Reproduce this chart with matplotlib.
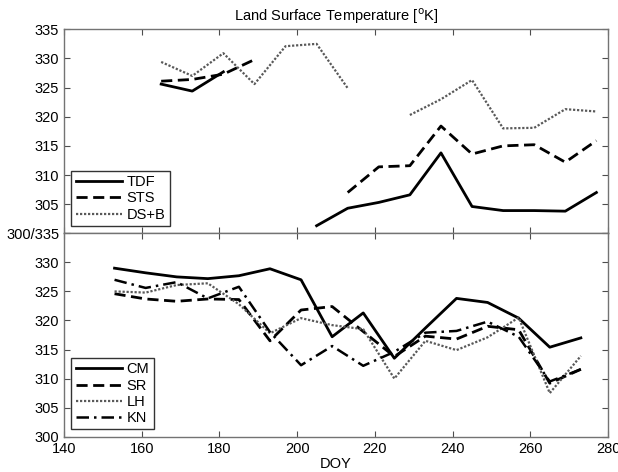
import numpy as np
import matplotlib
matplotlib.use("Agg")
import matplotlib.pyplot as plt

plt.rcParams["font.family"] = ["Liberation Sans", "DejaVu Sans"]
plt.rcParams["font.size"] = 10

nan = np.nan

# top panel: 8-day composites, DOY 165..277
doy_top = [165, 173, 181, 189, 197, 205, 213, 221, 229, 237, 245, 253, 261, 269, 277]
tdf  = [325.6, 324.4, 327.7, nan, nan, 301.3, 304.3, 305.3, 306.6, 313.8, 304.6, 303.9, 303.9, 303.8, 307.0]
sts  = [326.1, 326.4, 327.3, 329.8, nan, nan, 307.0, 311.4, 311.6, 318.4, 313.6, 315.0, 315.2, 312.2, 315.9]
dsb  = [329.4, 327.0, 330.9, 325.6, 332.1, 332.5, 324.9, nan, 320.3, 323.0, 326.3, 318.0, 318.1, 321.3, 320.9]

# bottom panel: DOY 153..273
doy_bot = [153, 161, 169, 177, 185, 193, 201, 209, 217, 225, 233, 241, 249, 257, 265, 273]
cm = [329.0, 328.2, 327.5, 327.2, 327.7, 328.9, 327.0, 317.2, 321.3, 313.5, 318.7, 323.8, 323.1, 320.4, 315.4, 317.0]
sr = [324.6, 323.7, 323.3, 323.7, 323.6, 316.5, 321.8, 322.4, 318.1, 313.8, 317.3, 316.8, 319.0, 318.4, 309.2, 311.6]
lh = [325.0, 324.8, 326.1, 326.4, 322.8, 317.8, 320.4, 319.2, 318.5, 310.0, 316.5, 314.9, 317.1, 320.5, 307.5, 313.9]
kn = [327.0, 325.6, 326.6, 323.8, 325.8, 318.0, 312.3, 315.6, 312.2, 314.6, 317.9, 318.2, 319.8, 317.2, 309.5, 311.6]

yticks = [300, 305, 310, 315, 320, 325, 330, 335]
xticks = [140, 160, 180, 200, 220, 240, 260, 280]

fig = plt.figure(figsize=(6.18, 4.72), dpi=100)
ax1 = fig.add_axes([0.1036, 0.5057, 0.8803, 0.4322])
ax2 = fig.add_axes([0.1036, 0.0748, 0.8803, 0.4309])

ax1.plot(doy_top, tdf, color="black", lw=2.0, ls="-", label="TDF")
ax1.plot(doy_top, sts, color="black", lw=2.0, ls=(0, (4, 2)), label="STS")
ax1.plot(doy_top, dsb, color="0.35", lw=1.6, ls=(0, (1, 0.8)), label="DS+B")

ax2.plot(doy_bot, cm, color="black", lw=2.0, ls="-", label="CM")
ax2.plot(doy_bot, sr, color="black", lw=2.0, ls=(0, (4, 2)), label="SR")
ax2.plot(doy_bot, lh, color="0.35", lw=1.6, ls=(0, (1, 0.8)), label="LH")
ax2.plot(doy_bot, kn, color="black", lw=1.8, ls=(0, (5, 2, 1, 2)), label="KN")

for ax in (ax1, ax2):
    ax.set_xlim(140, 280)
    ax.set_ylim(300, 335)
    ax.set_xticks(xticks)
    ax.set_yticks(yticks)
    ax.tick_params(direction="in", top=True, right=True, length=4,
                   color="0.3", labelsize=10.5)
    for s in ax.spines.values():
        s.set_color("0.45")
        s.set_linewidth(1.0)
    leg = ax.legend(loc="lower left", fontsize=10.5, handlelength=3.2,
                    handletextpad=0.3, borderpad=0.3, labelspacing=0.15,
                    fancybox=False, framealpha=1, borderaxespad=0.5)
    leg.get_frame().set_edgecolor("0.2")
    leg.get_frame().set_linewidth(1.0)

ax1.set_xticklabels([])
ax1.set_yticklabels(["300/335"] + [str(v) for v in yticks[1:]])
ax2.set_yticklabels([str(v) for v in yticks[:-1]] + [""])
ax2.set_xlabel("DOY", fontsize=10.5, labelpad=1)
ax1.set_title("Land Surface Temperature [$^{\\mathrm{o}}$K]", fontsize=10.5, pad=6)

fig.savefig("out.png", dpi=100)
